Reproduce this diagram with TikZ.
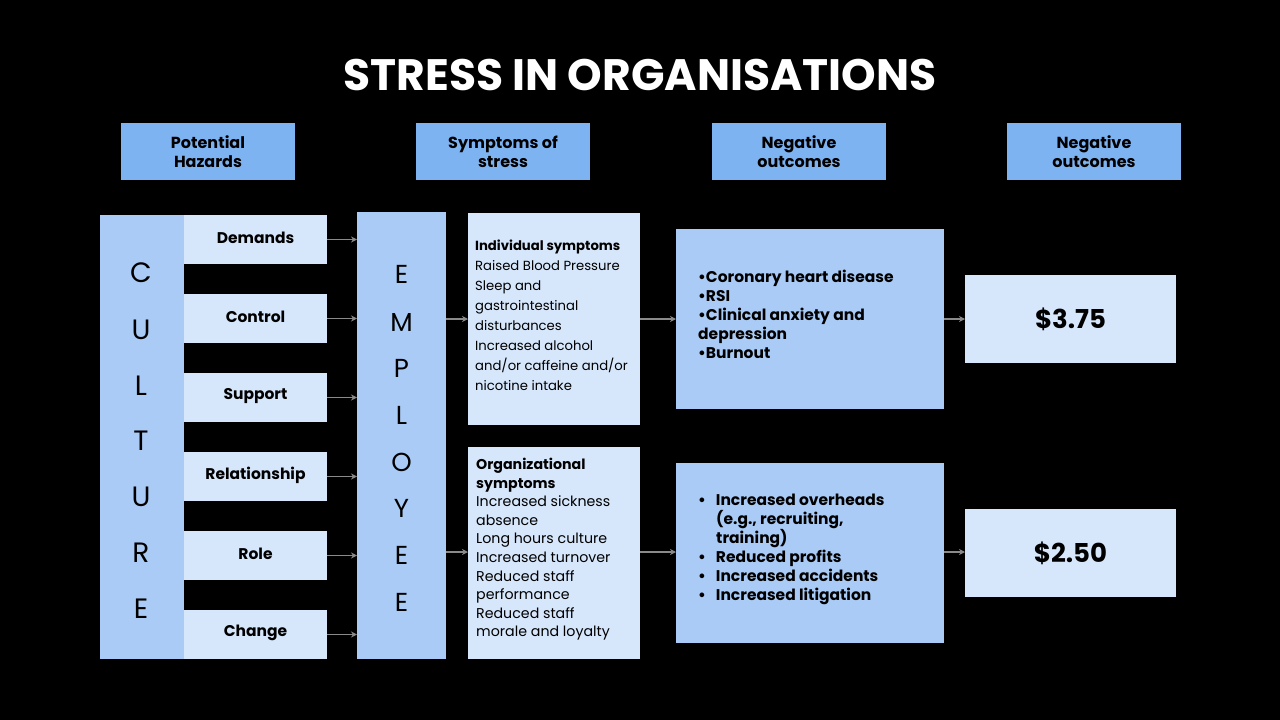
\documentclass[tikz,border=0pt]{standalone}
\usepackage{fontspec}
\setmainfont{Poppins}
\usetikzlibrary{arrows.meta}
\definecolor{hdr}{HTML}{7EB3F2}
\definecolor{mid}{HTML}{A9CBF5}
\definecolor{lite}{HTML}{D6E6FB}
\definecolor{arr}{HTML}{8A8A8A}
\tikzset{x=1pt,y=-1pt,
 hd/.style={font=\bfseries\fontsize{16}{19}\selectfont,align=center},
 mb/.style={fill=mid},
 lb/.style={fill=lite},
 ar/.style={draw=arr,line width=1.2pt,-{Stealth[length=6pt,width=6pt]}},
 lbl/.style={font=\bfseries\fontsize{15.5}{18}\selectfont}}
\begin{document}
\begin{tikzpicture}
\fill[black] (0,0) rectangle (1280,720);
\useasboundingbox (0,0) rectangle (1280,720);
\node[font=\bfseries\fontsize{44}{50}\selectfont,white] (title) at (640,75) {STRESS IN ORGANISATIONS};
\foreach \x/\t [count=\i] in {121/{Potential\\Hazards},416/{Symptoms of\\stress},712/{Negative\\outcomes},1007/{Negative\\outcomes}}{
 \path[fill=hdr] (\x,123) rectangle ++(174,57);
 \node[hd] (h\i) at (\x+87,151.5) {\t};}
\path[mb] (100,215) rectangle (184,659);
\foreach \l/\y in {C/273,U/330,L/386,T/441,U/497,R/553,E/609}
 \node[font=\fontsize{28}{30}\selectfont] at (141,\y) {\l};
\path[mb] (357,212) rectangle (446,659);
\foreach \l/\y in {E/274,M/322,P/368,L/415,O/462,Y/508,E/555,E/602}
 \node[font=\fontsize{26}{28}\selectfont] at (401.5,\y) {\l};
\foreach \t/\y [count=\i] in {Demands/215,Control/294,Support/373,Relationship/452,Role/531,Change/610}{
 \path[lb] (184,\y) rectangle (327,\y+49);
 \node[lbl] (z\i) at (255.5,\y+23) {\t};
 \coordinate (zr\i) at (327,\y+24.5);
 \coordinate (ze\i) at (357,\y+24.5);
 \draw[ar] (zr\i) -- (ze\i);}
\path[lb] (468,213) rectangle (640,425);
\path[lb] (468,447) rectangle (640,659);
\node[anchor=north west,align=left,font=\fontsize{13.2}{20}\selectfont,inner sep=0] (s1) at (475,240) {\textbf{Individual symptoms}\\Raised Blood Pressure\\Sleep and\\gastrointestinal\\disturbances\\Increased alcohol\\and/or caffeine and/or\\nicotine intake};
\node[anchor=north west,align=left,font=\fontsize{14.2}{18.6}\selectfont,inner sep=0] (s2) at (476,458) {\textbf{Organizational}\\\textbf{symptoms}\\Increased sickness\\absence\\Long hours culture\\Increased turnover\\Reduced staff\\performance\\Reduced staff\\morale and loyalty};
\path[mb] (676,229) rectangle (944,409);
\path[mb] (676,463) rectangle (944,643);
\node[anchor=north west,align=left,font=\bfseries\fontsize{15.5}{19}\selectfont,inner sep=0] (o1) at (698,270) {•Coronary heart disease\\•RSI\\•Clinical anxiety and\\depression\\•Burnout};
\node[anchor=north west,align=left,font=\bfseries\fontsize{15.5}{19}\selectfont,inner sep=0] (o2) at (698,494) {•\hspace{10pt}Increased overheads\\\hspace{18pt}(e.g., recruiting,\\\hspace{18pt}training)\\•\hspace{10pt}Reduced profits\\•\hspace{10pt}Increased accidents\\•\hspace{10pt}Increased litigation};
\path[lb] (965,275) rectangle (1176,363);
\path[lb] (965,509) rectangle (1176,597);
\node[font=\bfseries\fontsize{26}{28}\selectfont] (m1) at (1070.5,319) {\$3.75};
\node[font=\bfseries\fontsize{26}{28}\selectfont] (m2) at (1070.5,553) {\$2.50};
\foreach \y in {319,552}{
 \draw[ar] (446,\y) -- (468,\y);
 \draw[ar] (640,\y) -- (676,\y);
 \draw[ar] (944,\y) -- (965,\y);}
\end{tikzpicture}
\end{document}
